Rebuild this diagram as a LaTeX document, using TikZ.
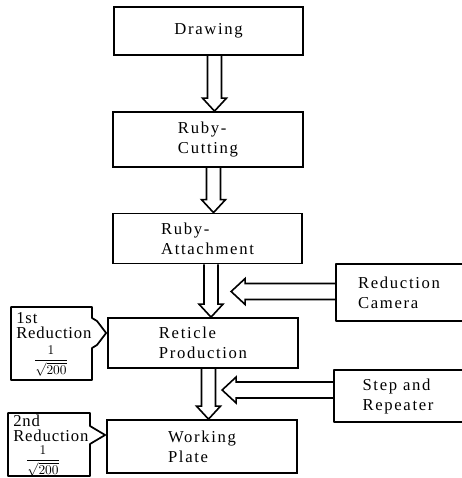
\documentclass[tikz,border=0pt]{standalone}
\usepackage{fontspec}
\usepackage{amsmath}
\usetikzlibrary{calc}

\newfontfamily\stagefont[LetterSpace=10]{Liberation Serif}
\newfontfamily\redfont[LetterSpace=5]{Liberation Serif}

\tikzset{
  stage/.style={draw, line width=1.3pt, align=left, inner sep=2pt,
    font=\stagefont\fontsize{12.5}{15}\selectfont},
  opentext/.style={stage, draw=none},
  redtext/.style={align=left, inner sep=0pt, anchor=north west,
    font=\redfont\fontsize{12.5}{11.25}\selectfont},
  fracnode/.style={inner sep=0pt, font=\normalsize},
  outline/.style={line width=1.3pt, line join=round},
  fat/.style={line width=1.2pt, line join=miter},
}

% 空心粗箭头: 向下 (#1 起点, #2 目标边)
\newcommand{\fatdown}[2]{%
  \draw[fat] ($(#1)+(-7,0)$) -- ($(#1|-#2)+(-7,-13)$) -- ($(#1|-#2)+(-12,-13)$)
    -- (#1|-#2) -- ($(#1|-#2)+(12,-13)$) -- ($(#1|-#2)+(7,-13)$) -- ($(#1)+(7,0)$);}
% 空心粗箭头: 向左 (#1 起点, #2 箭头尖)
\newcommand{\fatleft}[2]{%
  \draw[fat] ($(#1)+(0,-8)$) -- ($(#2)+(14,-8)$) -- ($(#2)+(14,-13)$)
    -- (#2) -- ($(#2)+(14,13)$) -- ($(#2)+(14,8)$) -- ($(#1)+(0,8)$);}

\begin{document}
\begin{tikzpicture}[x=0.75pt,y=-0.75pt]
            \useasboundingbox (0,0) rectangle (461,478);

            % 主流程框
            \node[stage, minimum width=141.75pt, minimum height=36pt] (drawing) at (208.5,31) {Drawing};
            \node[stage, minimum width=142.5pt, minimum height=41.25pt] (cutting) at (208,139.5) {Ruby-\\Cutting};
            \node[stage, minimum width=141.75pt, minimum height=37.5pt] (attach) at (207.5,238.5) {Ruby-\\Attachment};
            \node[stage, minimum width=142.5pt, minimum height=37.5pt] (reticle) at (203,343) {Reticle\\Production};
            \node[stage, minimum width=142.5pt, minimum height=39.75pt] (plate) at (202,446.5) {Working\\Plate};

            % 右侧框 (右边开口)
            \node[opentext, minimum width=93pt, minimum height=41.25pt] (camera) at (399,292.5) {Reduction\\Camera};
            \draw[outline] (camera.north east) -- (camera.north west) -- (camera.south west) -- (camera.south east);
            \node[opentext, minimum width=94.5pt, minimum height=37.5pt] (stepper) at (398,396) {Step and\\Repeater};
            \draw[outline] (stepper.north east) -- (stepper.north west) -- (stepper.south west) -- (stepper.south east);

            % 竖直箭头
            \coordinate (a1) at ($(drawing.south)+(6,0)$);
            \coordinate (a2) at ($(cutting.south)+(5.5,0)$);
            \coordinate (a3) at ($(attach.south)+(3.5,0)$);
            \coordinate (a4) at ($(reticle.south)+(5.5,0)$);
            \fatdown{a1}{cutting.north}
            \fatdown{a2}{attach.north}
            \fatdown{a3}{reticle.north}
            \fatdown{a4}{plate.north}

            % 水平箭头
            \coordinate (h1) at ($(camera.west)+(0,-1)$);
            \coordinate (h1tip) at ($(h1)+(-105,0)$);
            \fatleft{h1}{h1tip}
            \coordinate (h2) at ($(stepper.west)+(0,-6)$);
            \coordinate (h2tip) at ($(h2)+(-112,0)$);
            \fatleft{h2}{h2tip}

            % 左侧缩小框
            \coordinate (red1tip) at ($(reticle.west)+(-1,-10)$);
            \draw[outline] (11,307) -- (92,307) -- (92,318) -- (97,321) -- (red1tip)
                -- (97,345) -- (92,348) -- (92,380) -- (11,380) -- cycle;
            \node[redtext] (red1) at (16,312) {1st\\Reduction};
            \node[fracnode] (frac1) at (51,361) {$\displaystyle\frac{1}{\sqrt{200}}$};

            \coordinate (red2tip) at ($(plate.west)+(-1,-11.5)$);
            \draw[outline] (8,413) -- (90,413) -- (90,426) -- (95,429) -- (red2tip)
                -- (95,441) -- (90,444) -- (90,476) -- (8,476) -- cycle;
            \node[redtext] (red2) at (13,415) {2nd\\Reduction};
            \node[fracnode] (frac2) at (43,461) {$\displaystyle\frac{1}{\sqrt{200}}$};

        \end{tikzpicture}
\end{document}
